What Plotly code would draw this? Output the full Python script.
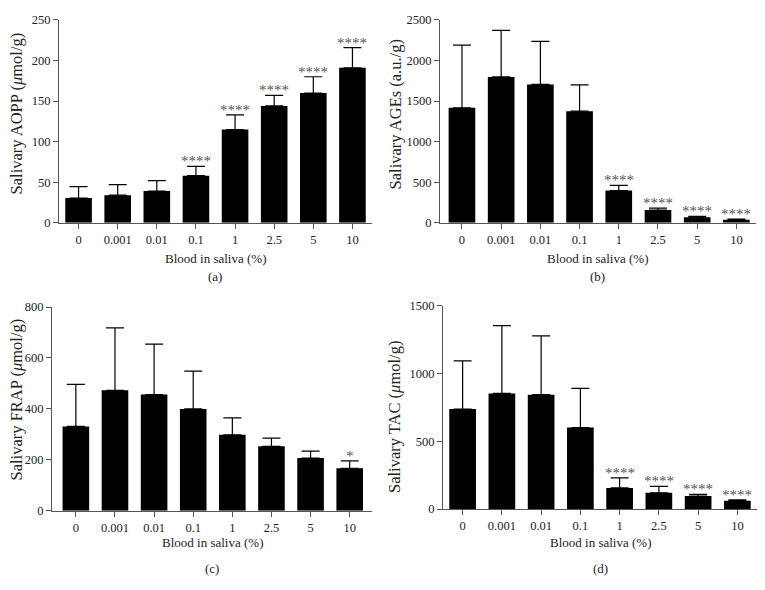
import plotly.graph_objects as go

# ---------------- data ----------------
categories = ["0", "0.001", "0.01", "0.1", "1", "2.5", "5", "10"]

aopp_mean = [30.5, 34, 39, 58, 115, 144, 160, 191]
aopp_sd = [14, 13, 13, 11.5, 18, 13, 20, 25]
aopp_sig = ["", "", "", "****", "****", "****", "****", "****"]

ages_mean = [1417, 1798, 1705, 1376, 397, 156, 68, 36]
ages_sd = [774, 574, 530, 325, 64, 24, 12, 8]
ages_sig = ["", "", "", "", "****", "****", "****", "****"]

frap_mean = [331, 473, 456, 400, 298, 253, 207, 167]
frap_sd = [165, 245, 198, 148, 67, 32, 27, 29]
frap_sig = ["", "", "", "", "", "", "", "*"]

tac_mean = [738, 853, 844, 601, 156, 120, 96, 62]
tac_sd = [355, 501, 433, 290, 74, 48, 12, 7]
tac_sig = ["", "", "", "", "****", "****", "****", "****"]

x_title = "Blood in saliva (%)"

# ---------------- layout config ----------------
W, H = 765, 590
FONT = "Liberation Serif"
AXC = "#555555"

panels = [
    dict(mean=aopp_mean, sd=aopp_sd, sig=aopp_sig, ymax=250, dtick=50,
         xdom=(59, 372), ydom=(13.3, 221), xr=(-0.5, 7.5),
         ytitle="Salivary AOPP (<i>μ</i>mol/g)", yt=(16, 109),
         xt=(215, 258), lab="(a)", labpos=(215, 276)),
    dict(mean=ages_mean, sd=ages_sd, sig=ages_sig, ymax=2500, dtick=500,
         xdom=(440, 756), ydom=(13.3, 221), xr=(-0.56, 7.5),
         ytitle="Salivary AGEs (a.u./g)", yt=(395, 110),
         xt=(597, 258), lab="(b)", labpos=(597, 276)),
    dict(mean=frap_mean, sd=frap_sd, sig=frap_sig, ymax=800, dtick=200,
         xdom=(52, 372), ydom=(307.3, 516), xr=(-0.61, 7.57),
         ytitle="Salivary FRAP (<i>μ</i>mol/g)", yt=(16, 402),
         xt=(212, 549), lab="(c)", labpos=(212, 575)),
    dict(mean=tac_mean, sd=tac_sd, sig=tac_sig, ymax=1500, dtick=500,
         xdom=(443, 757), ydom=(306, 514.3), xr=(-0.5, 7.5),
         ytitle="Salivary TAC (<i>μ</i>mol/g)", yt=(394, 420),
         xt=(600, 549), lab="(d)", labpos=(600, 575)),
]

fig = go.Figure()
annotations = []
layout_axes = {}

for i, p in enumerate(panels):
    xn = "x" if i == 0 else f"x{i+1}"
    yn = "y" if i == 0 else f"y{i+1}"
    xk = "xaxis" if i == 0 else f"xaxis{i+1}"
    yk = "yaxis" if i == 0 else f"yaxis{i+1}"

    fig.add_trace(go.Bar(
        x=categories, y=p["mean"], xaxis=xn, yaxis=yn,
        marker=dict(color="black", line=dict(width=0)),
        width=0.68,
        error_y=dict(type="data", array=p["sd"], arrayminus=[0] * len(p["sd"]),
                     symmetric=False, color="black", thickness=1.2, width=9),
        showlegend=False, hoverinfo="skip",
    ))

    layout_axes[xk] = dict(
        type="category", domain=[p["xdom"][0] / W, p["xdom"][1] / W],
        range=list(p["xr"]), anchor=yn,
        showline=True, linecolor=AXC, linewidth=1,
        ticks="outside", ticklen=5, tickcolor=AXC, tickwidth=1,
        tickfont=dict(family=FONT, size=12.5, color="#222"),
        showgrid=False, zeroline=False,
    )
    layout_axes[yk] = dict(
        domain=[1 - p["ydom"][1] / H, 1 - p["ydom"][0] / H],
        range=[0, p["ymax"]], dtick=p["dtick"], anchor=xn,
        showline=True, linecolor=AXC, linewidth=1,
        ticks="outside", ticklen=5, tickcolor=AXC, tickwidth=1,
        tickfont=dict(family=FONT, size=12.5, color="#222"),
        showgrid=False, zeroline=False,
    )

    for j, s in enumerate(p["sig"]):
        if s:
            # category axis: numeric index j is the category position
            annotations.append(dict(
                x=j, y=p["mean"][j] + p["sd"][j], xref=xn, yref=yn,
                text=s, showarrow=False, yanchor="middle", yshift=5,
                font=dict(family=FONT, size=15, color="#555"),
            ))

    annotations.append(dict(
        x=p["yt"][0] / W, y=1 - p["yt"][1] / H, xref="paper", yref="paper",
        text=p["ytitle"], textangle=-90, showarrow=False,
        xanchor="center", yanchor="middle",
        font=dict(family=FONT, size=16.5, color="#222"),
    ))
    annotations.append(dict(
        x=p["xt"][0] / W, y=1 - p["xt"][1] / H, xref="paper", yref="paper",
        text=x_title, showarrow=False, xanchor="center", yanchor="middle",
        font=dict(family=FONT, size=13, color="#222"),
    ))
    annotations.append(dict(
        x=p["labpos"][0] / W, y=1 - p["labpos"][1] / H, xref="paper", yref="paper",
        text=p["lab"], showarrow=False, xanchor="center", yanchor="middle",
        font=dict(family=FONT, size=13, color="#222"),
    ))

fig.update_layout(
    width=W, height=H, margin=dict(l=0, r=0, t=0, b=0),
    paper_bgcolor="white", plot_bgcolor="white",
    annotations=annotations, bargap=0.32,
    **layout_axes,
)

fig.write_html("out.html", config={"displayModeBar": False},
               post_script="document.body.style.margin='0px';")
